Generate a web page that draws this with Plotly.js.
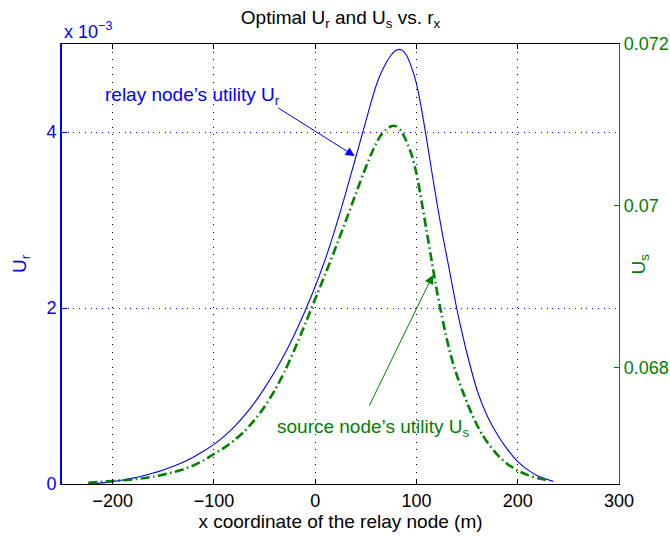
<!DOCTYPE html>
<html>
<head>
<meta charset="utf-8">
<script src="https://cdn.plot.ly/plotly-3.0.1.min.js"></script>
<style>html,body{margin:0;padding:0;background:#fff;}#chart{width:670px;height:536px;}</style>
</head>
<body>
<div id="chart"></div>
<script>
// Relay node utility U_r (left axis, values in units of 1e-3)
var rxUr = [-224, -210, -200, -190, -180, -170, -160, -150, -140, -130, -120, -110, -100, -90, -80, -70, -60, -50, -40, -30, -20, -10, 0, 10, 20, 30, 40, 45, 50, 55, 60, 65, 70, 75, 80, 85, 90, 95, 100, 105, 110, 115, 120, 125, 130, 135, 140, 145, 150, 160, 170, 180, 190, 200, 210, 220, 235];
var urMilli = [0.002, 0.013, 0.027, 0.045, 0.067, 0.093, 0.124, 0.16, 0.202, 0.251, 0.308, 0.374, 0.45, 0.542, 0.65, 0.776, 0.922, 1.09, 1.275, 1.48, 1.71, 1.965, 2.245, 2.555, 2.91, 3.30, 3.71, 3.915, 4.12, 4.33, 4.52, 4.67, 4.785, 4.875, 4.93, 4.935, 4.875, 4.74, 4.55, 4.26, 3.92, 3.56, 3.21, 2.88, 2.58, 2.28, 1.98, 1.72, 1.48, 1.06, 0.77, 0.56, 0.39, 0.254, 0.16, 0.09, 0.03];
// Source node utility U_s (right axis)
var rxUs = [-224, -210, -200, -190, -180, -170, -160, -150, -140, -130, -120, -110, -100, -90, -80, -70, -60, -50, -40, -30, -20, -10, 0, 10, 20, 30, 40, 50, 55, 60, 65, 70, 75, 77, 80, 85, 90, 95, 100, 105, 110, 115, 120, 125, 130, 135, 140, 145, 150, 155, 160, 165, 170, 180, 190, 200, 210, 220, 228];
var usVals = [0.066576, 0.066588, 0.066597, 0.066606, 0.066617, 0.066632, 0.066651, 0.066676, 0.066706, 0.066743, 0.066791, 0.066852, 0.066931, 0.067007, 0.067099, 0.067210, 0.067350, 0.067516, 0.067716, 0.067956, 0.068236, 0.068536, 0.068846, 0.069156, 0.069476, 0.069806, 0.070146, 0.070476, 0.070630, 0.070768, 0.070875, 0.070945, 0.070984, 0.070990, 0.070982, 0.070925, 0.070800, 0.070640, 0.070400, 0.070060, 0.069690, 0.069320, 0.068960, 0.068640, 0.068350, 0.068100, 0.067900, 0.067725, 0.067565, 0.067415, 0.067285, 0.067170, 0.067075, 0.066920, 0.066805, 0.066725, 0.066670, 0.066630, 0.066610];
// Ticks
var xTicks = [-200, -100, 0, 100, 200, 300];
var yTicks = [0, 0.002, 0.004];
var yTickText = ['0', '2', '4'];
var y2Ticks = [0.068, 0.07, 0.072];
var y2TickText = ['0.068', '0.07', '0.072'];

var ur = urMilli.map(function (v) { return v / 1000; });
var FONT = 'Liberation Sans, Arial, Helvetica, sans-serif';
var BLUE = '#0000ff';
var GREEN = '#008000';

var traces = [
  {x: rxUr, y: ur, type: 'scatter', mode: 'lines', name: 'U_r',
   line: {color: BLUE, width: 1.1, shape: 'spline', smoothing: 0.6}, yaxis: 'y'},
  {x: rxUs, y: usVals, type: 'scatter', mode: 'lines', name: 'U_s',
   line: {color: GREEN, width: 2.6, dash: '9px,3.5px,1.5px,3.5px', shape: 'spline', smoothing: 0.6}, yaxis: 'y2'}
];

var layout = {
  width: 670, height: 536,
  margin: {l: 62, r: 51, t: 44, b: 52, pad: 0},
  paper_bgcolor: '#fff', plot_bgcolor: '#fff',
  showlegend: false,
  font: {family: FONT, size: 18, color: '#000'},
  title: {text: 'Optimal U<sub>r</sub> and U<sub>s</sub> vs. r<sub>x</sub>',
          font: {family: FONT, size: 19, color: '#000'},
          x: 0.5, xref: 'paper', y: 0.968, yref: 'container', yanchor: 'middle'},
  xaxis: {range: [-250, 300], tickvals: xTicks, ticks: 'inside', ticklen: 5, tickcolor: '#000',
          showline: true, linecolor: '#000', linewidth: 1, mirror: 'ticks',
          showgrid: true, gridcolor: '#000', gridwidth: 1, griddash: '1px,6.5px', zeroline: false,
          tickfont: {family: FONT, size: 18, color: '#000'},
          title: {text: 'x coordinate of the relay node (m)', font: {family: FONT, size: 19, color: '#000'}, standoff: 4}},
  yaxis: {range: [0, 0.005], tickvals: yTicks, ticktext: yTickText, ticks: 'inside', ticklen: 5,
          tickcolor: BLUE, showline: true, linecolor: BLUE, linewidth: 2, mirror: false,
          showgrid: true, gridcolor: BLUE, gridwidth: 1, griddash: '1px,4.7px', zeroline: false,
          tickfont: {family: FONT, size: 18, color: BLUE},
          title: {text: 'U<sub>r</sub>', font: {family: FONT, size: 19, color: BLUE}, standoff: 15}},
  yaxis2: {range: [0.06656, 0.0720], overlaying: 'y', side: 'right', tickvals: y2Ticks, ticktext: y2TickText,
           ticks: 'inside', ticklen: 5, tickcolor: GREEN, showline: true, linecolor: GREEN, linewidth: 1.2,
           showgrid: false, zeroline: false,
           tickfont: {family: FONT, size: 18, color: GREEN}},
  yaxis3: {range: [0, 0.005], overlaying: 'y', side: 'right', tickvals: yTicks, showticklabels: false,
           ticks: 'inside', ticklen: 5, tickcolor: BLUE, showline: false, showgrid: false, zeroline: false},
  annotations: [
    {text: 'x 10<sup>\u22123</sup>', xref: 'paper', yref: 'paper', x: 0, y: 1, xanchor: 'left', yanchor: 'bottom',
     yshift: 0, showarrow: false, font: {family: FONT, size: 18, color: BLUE}},
    {text: 'U<sub>s</sub>', xref: 'paper', yref: 'paper', x: 1.037, y: 0.5, xanchor: 'center', yanchor: 'middle',
     textangle: -90, showarrow: false, font: {family: FONT, size: 19, color: GREEN}},
    {text: 'relay node\u2019s utility U<sub>r</sub>', xref: 'x', yref: 'y', x: -209.5, y: 0.00441,
     xanchor: 'left', yanchor: 'middle', showarrow: false, font: {family: FONT, size: 19, color: BLUE}},
    {text: '', xref: 'x', yref: 'y', x: 39, y: 0.003727, axref: 'x', ayref: 'y', ax: -38, ay: 0.004284,
     showarrow: true, arrowhead: 2, arrowsize: 1.8, arrowwidth: 1, arrowcolor: BLUE},
    {text: 'source node\u2019s utility U<sub>s</sub>', xref: 'x', yref: 'y2', x: -40, y: 0.067253,
     xanchor: 'left', yanchor: 'middle', showarrow: false, font: {family: FONT, size: 19, color: GREEN}},
    {text: '', xref: 'x', yref: 'y2', x: 116.3, y: 0.069145, axref: 'x', ayref: 'y2', ax: 52.8, ay: 0.067512,
     showarrow: true, arrowhead: 2, arrowsize: 1.8, arrowwidth: 1, arrowcolor: GREEN}
  ]
};

Plotly.newPlot('chart', traces, layout, {staticPlot: true, displayModeBar: false});
</script>
</body>
</html>
